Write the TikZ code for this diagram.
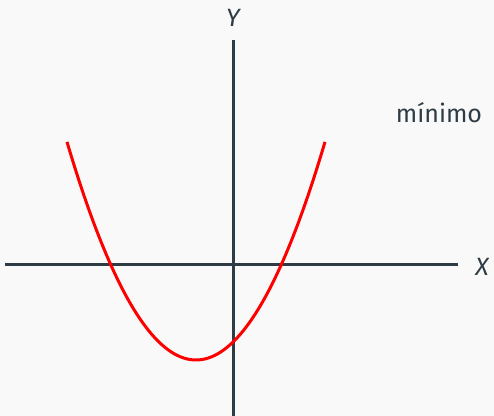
\documentclass[tikz,border=0pt]{standalone}
\usepackage{fontspec}
\setmainfont{Fira Sans}
\usepackage{xcolor}
\usepackage{tikz}
\usetikzlibrary{positioning, calc}

\definecolor{axisgray}{HTML}{2E3C45}
\definecolor{bggray}{HTML}{F9F9F9}

\begin{document}
\begin{tikzpicture}[
    x=0.5pt, y=-0.5pt,
    axis/.style={draw=axisgray, line width=1.5pt},
    curve/.style={draw=red, line width=1.5pt},
    lbl/.style={text=axisgray, font=\fontsize{12.5}{15}\selectfont, inner sep=0pt}
]
    % Background and page size
    \fill[bggray] (0,0) rectangle (494,416);
    \useasboundingbox (0,0) rectangle (494,416);

    % Axis end points
    \coordinate (xl) at (5,265);
    \coordinate (xr) at (458,265);
    \coordinate (yt) at (233,40);
    \coordinate (yb) at (233,416);

    % Axis labels
    \node[lbl] (X) at (482,267) {\itshape X};
    \node[lbl] (Y) at (233,18)  {\itshape Y};
    \node[lbl] (min) at (439,113) {mínimo};

    % Axes
    \draw[axis] (xl) -- (xr);
    \draw[axis] (yt) -- (yb);

    % Parabola
    \draw[curve] plot[domain=67:325, samples=80, smooth]
        (\x, {360-0.0131*(\x-196)*(\x-196)});
\end{tikzpicture}
\end{document}
